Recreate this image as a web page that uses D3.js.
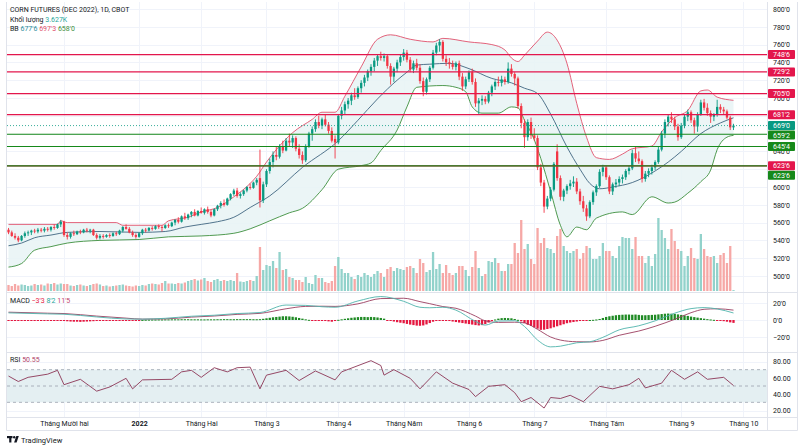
<!DOCTYPE html>
<html><head><meta charset="utf-8">
<script src="https://cdn.jsdelivr.net/npm/d3@7"></script>
<style>
html,body{margin:0;padding:0;background:#fff;}
svg{display:block;font-family:Roboto,"Liberation Sans",Arial,sans-serif;}
</style></head><body>
<svg id="c" width="805" height="447"></svg>
<script>
// ---------- DATA ----------
const opens=[552,549,545,543,540,545,548,549,551,550,552,551,553,552,555,554,558,561,546,544,548,547,550,549,552,551,552,546,543,545,544,546,545,548,547,551,555,553,549,546,544,548,552,551,554,553,556,555,554,557,556,560,563,561,567,565,569,572,568,573,571,575,572,568,575,579,582,580,587,592,596,590,592,596,600,599,605,610,585,603,618,628,636,634,645,641,652,650,655,643,636,630,646,660,665,673,669,676,670,663,654,650,680,686,693,697,703,701,711,717,723,730,735,742,747,745,747,736,724,733,740,746,751,743,732,739,734,719,707,721,734,751,759,763,744,740,738,735,739,724,713,721,729,718,694,697,699,696,706,713,718,717,721,718,733,727,722,691,672,656,673,658,655,622,605,578,587,597,640,610,589,596,601,604,606,595,584,576,567,583,594,601,617,622,611,595,603,605,609,611,618,621,638,632,629,609,615,618,622,628,642,660,673,679,676,668,656,669,679,684,675,668,682,695,689,683,679,681,690,687,685,678,667];
const highs=[554,551,548,545,546,550,551,552,553,554,554,555,555,556,558,559,563,562,549,549,551,551,552,553,554,553,553,548,547,547,547,548,549,550,552,556,558,555,551,548,549,553,554,555,556,557,558,557,558,559,561,564,566,568,571,570,573,575,574,577,576,578,574,576,580,584,586,588,593,598,599,594,597,601,604,606,610,642,606,620,632,640,645,648,652,655,660,658,657,648,640,648,662,668,676,680,678,681,673,667,658,682,690,696,700,706,711,713,720,726,732,738,745,749,752,750,749,739,735,743,749,755,754,746,742,744,738,723,723,736,754,762,766,765,748,745,742,741,742,728,724,731,733,722,700,703,702,708,715,720,724,725,724,740,738,729,724,694,676,676,678,666,658,626,608,590,600,628,648,613,598,603,608,612,610,598,590,580,585,596,603,620,625,624,613,605,609,612,614,620,624,642,645,640,631,618,621,625,630,645,663,676,682,684,679,671,672,682,687,686,678,684,698,699,694,686,683,698,693,690,687,680,671];
const lows=[547,544,541,538,539,543,545,546,548,548,549,549,550,550,552,553,555,544,541,542,545,546,547,548,549,548,545,541,541,542,543,543,544,545,546,549,552,548,544,542,543,546,549,550,551,552,553,550,553,554,555,557,559,560,563,563,566,567,567,570,569,570,566,567,573,576,578,579,585,590,588,587,590,594,597,598,602,577,582,600,615,622,630,632,638,640,646,644,640,632,626,628,644,652,662,666,665,668,660,650,632,648,676,682,688,692,698,699,706,713,719,725,730,736,742,741,733,715,718,729,736,742,740,729,728,731,716,702,704,718,732,748,752,741,736,733,732,731,720,708,710,718,715,690,681,692,693,694,702,709,713,713,715,716,724,714,688,666,644,652,654,652,619,601,571,575,584,595,607,585,584,592,597,600,592,580,572,562,565,580,590,599,612,608,592,591,599,601,604,608,614,619,628,626,605,606,611,614,619,626,640,655,668,672,664,652,654,666,674,672,660,662,680,686,680,672,674,679,683,681,676,664,664];
const closes=[549,545,543,540,545,548,549,551,550,552,551,553,552,555,554,558,561,546,544,548,547,550,549,552,551,552,546,543,545,544,546,545,548,547,551,555,553,549,546,544,548,552,551,554,553,556,555,554,557,556,560,563,561,567,565,569,572,568,573,571,575,572,568,575,579,582,580,587,592,596,590,592,596,600,599,605,608,585,603,618,628,636,634,645,641,652,650,655,643,636,630,646,660,665,673,669,676,670,663,652,650,680,686,693,697,703,701,711,717,723,730,735,742,747,745,747,736,724,733,740,746,751,743,732,739,734,719,707,721,734,751,759,763,744,740,738,735,739,724,713,721,729,718,694,697,699,696,706,713,718,717,721,718,733,727,722,691,672,656,673,658,655,622,605,578,587,597,626,610,589,596,601,604,606,595,584,576,567,583,594,601,617,622,611,595,603,605,609,611,618,621,638,632,629,609,615,618,622,628,642,660,673,679,676,668,656,669,679,684,675,668,682,695,689,683,679,681,690,687,685,678,667,669];
const volumes=[24,20,28,22,26,24,20,22,28,24,26,22,30,28,32,26,30,28,
28,22,20,24,26,22,20,24,28,30,26,
20,22,18,20,22,24,26,22,20,18,22,20,24,22,
28,30,28,26,32,40,30,
30,28,32,30,34,40,44,48,42,46,52,
40,36,44,48,40,44,40,
44,40,72,38,36,40,44,40,60,
176,84,104,100,
120,92,156,84,88,56,52,44,44,36,56,32,28,64,52,52,36,32,40,100,
136,88,72,72,56,48,64,56,72,64,56,68,80,72,56,88,96,80,92,88,
84,96,100,92,72,128,112,76,84,156,88,108,72,104,72,64,72,100,100,84,
60,96,160,92,60,68,120,116,132,112,80,80,108,108,192,152,284,168,188,128,
108,252,192,212,172,168,152,220,248,180,160,152,160,168,128,152,180,172,128,128,
140,192,160,160,140,132,180,216,212,212,168,216,140,140,112,140,100,148,292,244,
212,168,248,200,168,160,100,140,172,132,128,228,168,140,136,140,112,144,152,112,180,3.627];

// Bollinger bands (bar index / value)
const bbUpIdx=[0,15,16,18,33,35,47,49,55,59,64,69,74,76,79,82,87,93,96,100,103,108,113,117,123,130,133,141,148,152,154,156,158,162,165,168,171,174,177,180,184,188,191,197,200,204,208,212,214,217,222];
const bbUpVal=[558,558,562,560,560,557,557,562,566,572,577,589,604,612,628,642,661,676,684,684,702,735,766,771,766,763,767,763,760,754,745,741,748,764,774,765,739,694,656,633,631,637,643,646,662,678,686,708,709,701,697.4];
const bbMidIdx=[0,4,8,13,18,28,40,48,54,59,64,69,74,80,90,101,107,113,119,122,125,129,135,141,148,154,158,162,166,171,175,178,181,185,191,198,202,206,212,218,222];
const bbMidVal=[534,537,543,546,549,550,549,550,555,558,561,566,577,590,622,652,675,699,720,729,737,738,739,733,722,717,711,705,682,645,620,604,598,600,605,618,628,640,660,672,677.75];
const bbLowIdx=[0,4,8,13,18,28,40,49,59,69,74,80,86,90,96,101,108,111,114,119,122,125,133,137,140,142,145,150,154,156,158,161,163,166,169,171,174,177,180,188,191,197,202,204,208,212,215,217,220,222];
const bbLowVal=[510,514,529,533,537,540,541,544,545,548,553,562,571,576,597,620,624,627,641,664,690,712,714,712,707,690,683,683,690,689,675,653,632,595,557,544,555,552,565,572,569,589,582,583,593,606,619,642,656,658];

// MACD
const macdIdx=[0,12,17,27,36,41,48,56,63,70,77,85,91,96,100,107,114,121,126,129,133,137,143,146,150,155,158,162,166,169,174,178,182,187,193,198,204,209,213,217,222];
const macdVal=[8.4,7.2,6.8,3.6,1.2,1.0,2.0,4.4,5.6,7.6,8.8,17.6,17.2,15.6,15.0,22.4,27.6,22.0,15.0,14.4,15.0,11.6,-1.6,-6.0,-1.2,-0.8,-7.6,-23.6,-31.6,-30.8,-26.8,-25.6,-20.4,-11.6,-6.8,-1.0,8.0,13.4,14.6,13.0,8.25];
const signalVal=[9.2,8.0,7.6,4.6,2.2,1.0,1.3,3.4,4.7,6.6,7.8,13.2,16.0,16.2,16.0,19.0,25.2,25.6,21.6,19.2,15.8,13.8,4.6,-1.0,-2.8,-2.6,-3.4,-11.0,-20.0,-23.6,-25.6,-25.8,-24.0,-18.0,-13.0,-7.4,0.8,8.6,12.6,13.2,11.625];
const histVal=[-0.8,-0.8,-0.8,-0.8,-0.8,-0.8,-0.8,-0.8,-0.8,-0.8,-0.8,-0.8,-0.8,-0.8,-0.8,-0.8,-0.8,
-1.2,-1.5,-1.8,-2.0,-2.0,-2.2,-2.0,-1.8,-1.6,-1.4,-1.2,
-1.0,-1.0,-0.8,-0.8,-0.6,-0.6,-0.5,-0.4,-0.4,-0.3,-0.2,-0.2,-0.1,0.1,
0.3,0.4,0.5,0.5,0.6,0.6,0.7,0.7,0.8,0.8,0.8,0.9,0.9,0.9,0.8,0.8,0.8,0.7,0.7,0.8,0.8,0.8,0.9,0.9,1.0,1.0,0.9,0.9,1.0,1.0,1.0,1.0,1.0,0.9,0.9,
1.0,1.4,2.0,2.6,3.2,3.6,4.0,4.4,4.4,4.2,3.8,3.2,2.4,1.6,0.8,
0.2,-0.2,-0.4,-0.6,-0.8,-1.2,-1.6,-2.0,-1.2,
0.2,0.8,1.4,2.0,2.6,3.0,3.4,3.6,3.6,3.4,3.6,3.4,3.0,2.4,1.6,
-0.2,-1.0,-1.8,-2.6,-3.2,-3.8,-4.6,-5.4,-6.0,-6.6,-6.8,-6.4,-5.2,-3.6,
-2.0,-1.2,-0.8,-0.6,-0.8,-1.2,-1.8,
-2.4,-3.0,-3.6,-4.2,-4.8,-5.4,-6.0,-6.4,-6.0,-4.8,-3.0,
-1.0,0.6,1.6,2.2,2.4,2.2,2.0,1.2,0.2,
-1.6,-3.6,-5.6,-7.0,-8.6,-10.2,-11.6,-11.4,-10.6,-9.8,-8.6,-7.4,-6.2,-5.0,-3.8,
-3.0,-2.4,-1.8,-1.2,-0.8,-0.4,
0.0,0.2,0.6,1.2,
2.4,3.6,4.4,5.0,5.6,6.0,6.2,6.4,6.4,6.2,6.4,6.0,5.6,5.6,5.8,6.0,6.2,6.6,
7.0,7.4,7.6,7.4,7.2,6.6,6.0,5.4,4.8,4.0,3.4,2.8,2.2,1.6,
1.0,0.6,0.2,-0.2,-0.8,-1.4,-2.0,-2.8,-3.4];

// RSI
const rsiIdx=[0,3,6,12,15,17,22,27,31,36,38,41,50,53,56,59,63,67,70,74,77,79,85,89,94,100,102,111,114,115,118,123,126,131,136,141,143,147,152,155,157,160,164,166,169,172,176,181,185,190,193,195,200,203,207,211,214,219,222];
const rsiVal=[62.2,55.5,60.6,64.5,69.2,51.6,58.2,43.7,48.8,59.4,46.5,57.5,58.2,67.3,69.2,60.6,72.4,67.3,72.4,73.1,46.5,63.3,69.2,56.7,68.4,57.5,67.3,81,75.1,63.3,70,59.4,46.5,67.3,53.5,45.7,37,49.6,51.6,41.8,30.8,35.9,23,35.9,34.7,38.6,30.8,49.6,46.5,51.6,59.4,47.7,53.5,69.2,58.2,67.3,58.2,60.6,50.55];

// Horizontal levels
const redLevels=[748.75,729.25,705,681.25,623.75];
const greenLevels=[659.25,645.5,623.75];
const lastPrice=669;

// Axis ticks
const priceTicks=[500,520,540,560,580,600,620,640,660,680,700,720,740,760,780,800];
const macdTicks=[20,0,-20];
const rsiTicks=[80,60,40,20];
const monthIdx=[17,40,59,79,101,121,141,161,183,206,225];
const monthLbl=['Tháng Mười hai','2022','Tháng Hai','Tháng 3','Tháng 4','Tháng Năm','Tháng 6','Tháng 7','Tháng Tám','Tháng 9','Tháng 10'];

// ---------- DRAW ----------
const svg=d3.select('#c');
const PL=7, PR=767;
const N=closes.length;
const x=d3.scaleLinear().domain([0,222]).range([8.5,733.5]);
const yP=d3.scaleLinear().domain([500,800]).range([276,9]);
const yV=d3.scaleLinear().domain([0,300]).range([291,216]);
const yM=d3.scaleLinear().domain([-20,20]).range([337,303]);
const yR=d3.scaleLinear().domain([20,80]).range([410.5,361.5]);
const UP='#089981', DN='#f23645';
const fmt8=v=>{const s=v<0?'−':'';v=Math.abs(v);let w=Math.floor(v+1e-9);let e=Math.round((v-w)*8);if(e===8){w+=1;e=0;}return s+w+"'"+e;};

svg.append('rect').attr('width',805).attr('height',447).attr('fill','#fff');
const defs=svg.append('defs');
defs.append('clipPath').attr('id','cm').append('rect').attr('x',PL).attr('y',2).attr('width',PR-PL).attr('height',290.5);
defs.append('clipPath').attr('id','cma').append('rect').attr('x',PL).attr('y',293).attr('width',PR-PL).attr('height',59);
defs.append('clipPath').attr('id','crs').append('rect').attr('x',PL).attr('y',353).attr('width',PR-PL).attr('height',64);

const grid=svg.append('g').attr('stroke','#f0f3fa').attr('stroke-width',1);
monthIdx.forEach(m=>{const xx=Math.round(x(m))+0.5;if(xx<PR)grid.append('line').attr('x1',xx).attr('x2',xx).attr('y1',2).attr('y2',417);});
priceTicks.forEach(p=>{const yy=Math.round(yP(p))+0.5;grid.append('line').attr('x1',PL).attr('x2',PR).attr('y1',yy).attr('y2',yy);});
macdTicks.forEach(p=>{const yy=Math.round(yM(p))+0.5;grid.append('line').attr('x1',PL).attr('x2',PR).attr('y1',yy).attr('y2',yy);});
rsiTicks.forEach(p=>{const yy=Math.round(yR(p))+0.5;grid.append('line').attr('x1',PL).attr('x2',PR).attr('y1',yy).attr('y2',yy);});

// main pane
const main=svg.append('g').attr('clip-path','url(#cm)');
const lineP=d3.line().x(d=>x(d[0])).y(d=>yP(d[1])).curve(d3.curveMonotoneX);
const up=bbUpIdx.map((d,i)=>[d,bbUpVal[i]]);
const mid=bbMidIdx.map((d,i)=>[d,bbMidVal[i]]);
const lo=bbLowIdx.map((d,i)=>[d,bbLowVal[i]]);
const upPath=lineP(up);
const loRev=lineP(lo.slice().reverse());
main.append('path').attr('d',upPath+'L'+loRev.slice(1)+'Z').attr('fill','#e8f3f4').attr('fill-opacity',0.85);

// volume
const bw=2.3;
main.append('g').selectAll('rect').data(d3.range(N)).join('rect')
 .attr('x',i=>x(i)-bw/2).attr('width',bw)
 .attr('y',i=>yV(volumes[i])).attr('height',i=>Math.max(0.5,yV(0)-yV(volumes[i])))
 .attr('fill',i=>closes[i]>=opens[i]?'#92d2cb':'#f6a8a6');

main.append('path').attr('d',upPath).attr('fill','none').attr('stroke','#e0506b').attr('stroke-width',0.9);
main.append('path').attr('d',lineP(mid)).attr('fill','none').attr('stroke','#3f6580').attr('stroke-width',0.9);
main.append('path').attr('d',lineP(lo)).attr('fill','none').attr('stroke','#3d8f3d').attr('stroke-width',0.9);

// candles
const cg=main.append('g');
cg.selectAll('line').data(d3.range(N)).join('line')
 .attr('x1',i=>x(i)).attr('x2',i=>x(i)).attr('y1',i=>yP(highs[i])).attr('y2',i=>yP(lows[i]))
 .attr('stroke',i=>closes[i]>=opens[i]?UP:DN).attr('stroke-width',0.9);
cg.selectAll('rect').data(d3.range(N)).join('rect')
 .attr('x',i=>x(i)-bw/2).attr('width',bw)
 .attr('y',i=>yP(Math.max(opens[i],closes[i])))
 .attr('height',i=>Math.max(0.8,Math.abs(yP(opens[i])-yP(closes[i]))))
 .attr('fill',i=>closes[i]>=opens[i]?UP:DN);

// levels
const RL='#e3164c', GL='#16891a';
redLevels.forEach(v=>{const yy=yP(v);svg.append('line').attr('x1',PL).attr('x2',PR+1).attr('y1',yy).attr('y2',yy).attr('stroke',RL).attr('stroke-width',1.2);});
greenLevels.forEach(v=>{const yy=yP(v);svg.append('line').attr('x1',PL).attr('x2',PR+1).attr('y1',yy).attr('y2',yy).attr('stroke',GL).attr('stroke-width',1.2);});
svg.append('line').attr('x1',PL).attr('x2',PR).attr('y1',yP(lastPrice)).attr('y2',yP(lastPrice)).attr('stroke',UP).attr('stroke-width',0.8).attr('stroke-dasharray','1,2');

// MACD pane
const mg=svg.append('g').attr('clip-path','url(#cma)');
mg.selectAll('rect').data(histVal).join('rect')
 .attr('x',(d,i)=>x(i)-bw/2).attr('width',bw)
 .attr('y',d=>d>=0?yM(d):yM(0)).attr('height',d=>Math.max(1,Math.abs(yM(d)-yM(0))))
 .attr('fill',d=>d>=0?'#1f8a24':'#e5173f');
const lineM=d3.line().x(d=>x(d[0])).y(d=>yM(d[1])).curve(d3.curveMonotoneX);
mg.append('path').attr('d',lineM(macdIdx.map((d,i)=>[d,signalVal[i]]))).attr('fill','none').attr('stroke','#9b3d5f').attr('stroke-width',0.9);
mg.append('path').attr('d',lineM(macdIdx.map((d,i)=>[d,macdVal[i]]))).attr('fill','none').attr('stroke','#4fb3ab').attr('stroke-width',0.9);

// RSI pane
const rg=svg.append('g').attr('clip-path','url(#crs)');
rg.append('rect').attr('x',PL).attr('width',PR-PL).attr('y',yR(70)).attr('height',yR(30)-yR(70)).attr('fill','#e4eff2');
[70,50,30].forEach(v=>rg.append('line').attr('x1',PL).attr('x2',PR).attr('y1',yR(v)).attr('y2',yR(v)).attr('stroke','#9aa1ad').attr('stroke-width',0.8).attr('stroke-dasharray','3,3'));
rg.append('path').attr('d',d3.line().x(d=>x(d[0])).y(d=>yR(d[1]))(rsiIdx.map((d,i)=>[d,rsiVal[i]]))).attr('fill','none').attr('stroke','#8c3556').attr('stroke-width',0.9);

// separators / frame
const sep=svg.append('g').attr('stroke','#e0e3eb').attr('stroke-width',1);
[292.5,352.5,417.5,430.5].forEach(yy=>sep.append('line').attr('x1',PL-0.5).attr('x2',797.5).attr('y1',yy).attr('y2',yy));
[PL-0.5,PR+0.5,797.5].forEach(xx=>sep.append('line').attr('x1',xx).attr('x2',xx).attr('y1',2).attr('y2',430.5));

// price tags (positions resolved first, so hidden tick labels can be skipped)
const tags=[];
redLevels.forEach(v=>tags.push({v,c:RL}));
tags.push({v:lastPrice,c:UP});
greenLevels.forEach(v=>tags.push({v,c:GL}));
tags.forEach(t=>t.y=yP(t.v));
tags.sort((a,b)=>a.y-b.y);
for(let k=1;k<tags.length;k++){if(tags[k].y-tags[k-1].y<9)tags[k].y=tags[k-1].y+9.5;}
const visibleTicks=priceTicks.filter(p=>!tags.some(t=>Math.abs(t.y-yP(p))<4));

// axes
function styleAxis(g){g.select('.domain').remove();g.attr('font-family','Roboto,"Liberation Sans",Arial,sans-serif').attr('font-size',7);g.selectAll('text').attr('fill','#131722');}
const gP=svg.append('g').attr('transform',`translate(${PR},0)`).call(d3.axisRight(yP).tickValues(visibleTicks).tickFormat(fmt8).tickSize(0).tickPadding(6));
styleAxis(gP);
const gM=svg.append('g').attr('transform',`translate(${PR},0)`).call(d3.axisRight(yM).tickValues(macdTicks).tickFormat(fmt8).tickSize(0).tickPadding(6));
styleAxis(gM);
const gR=svg.append('g').attr('transform',`translate(${PR},0)`).call(d3.axisRight(yR).tickValues(rsiTicks).tickFormat(d3.format('.2f')).tickSize(0).tickPadding(6));
styleAxis(gR);
const gT=svg.append('g').attr('transform','translate(0,417)').call(d3.axisBottom(x).tickValues(monthIdx).tickFormat((d,i)=>monthLbl[i]).tickSize(0).tickPadding(4));
styleAxis(gT);
gT.selectAll('text').attr('font-weight',(d,i)=>monthLbl[i]==='2022'?'bold':'normal');

const tg=svg.append('g');
tags.forEach(t=>{
 tg.append('rect').attr('x',PR+1).attr('y',t.y-4.5).attr('width',27).attr('height',9).attr('rx',1).attr('fill',t.c);
 tg.append('text').attr('x',PR+14.5).attr('y',t.y+2.5).attr('text-anchor','middle').attr('font-size',7).attr('fill','#fff').text(fmt8(t.v));
});

// legends
const lg=svg.append('g').attr('font-size',7).attr('fill','#131722');
lg.append('text').attr('x',10).attr('y',12).text('CORN FUTURES (DEC 2022), 1D, CBOT');
const l2=lg.append('text').attr('x',10).attr('y',21.5);
l2.append('tspan').text('Khối lượng ');
l2.append('tspan').attr('fill','#26a69a').text(volumes[N-1].toFixed(3)+'K');
const l3=lg.append('text').attr('x',10).attr('y',31);
l3.append('tspan').text('BB ');
l3.append('tspan').attr('fill','#2b8c9b').text(fmt8(bbMidVal[bbMidVal.length-1])+' ');
l3.append('tspan').attr('fill','#e0506b').text(fmt8(bbUpVal[bbUpVal.length-1])+' ');
l3.append('tspan').attr('fill','#3d8f3d').text(fmt8(bbLowVal[bbLowVal.length-1]));
const l4=lg.append('text').attr('x',10).attr('y',302.5);
l4.append('tspan').text('MACD ');
l4.append('tspan').attr('fill','#e5173f').text(fmt8(histVal[histVal.length-1])+' ');
l4.append('tspan').attr('fill','#26a69a').text(fmt8(macdVal[macdVal.length-1])+' ');
l4.append('tspan').attr('fill','#c2466c').text(fmt8(signalVal[signalVal.length-1]));
const l5=lg.append('text').attr('x',10).attr('y',362);
l5.append('tspan').text('RSI ');
l5.append('tspan').attr('fill','#b0426a').text(rsiVal[rsiVal.length-1].toFixed(2));

// logo
const lo2=svg.append('g').attr('fill','#131722');
lo2.append('rect').attr('x',7).attr('y',436).attr('width',5.5).attr('height',2.2);
lo2.append('rect').attr('x',9.2).attr('y',436).attr('width',2.2).attr('height',6.5);
lo2.append('circle').attr('cx',14.2).attr('cy',437.2).attr('r',1.2);
lo2.append('path').attr('d','M16.3,436 L18.8,436 L16.6,442.5 L14.1,442.5 Z');
lo2.append('text').attr('x',21).attr('y',442.5).attr('font-size',7.5).text('TradingView');
</script>
</body></html>
